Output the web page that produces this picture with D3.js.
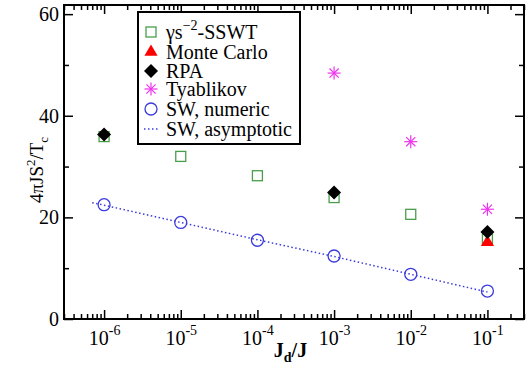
<!DOCTYPE html>
<html>
<head>
<meta charset="utf-8">
<script src="https://cdn.jsdelivr.net/npm/d3@7"></script>
<style>
  body { margin: 0; background: #fff; }
  svg text { font-family: "Liberation Serif", "Times New Roman", "DejaVu Serif", serif; fill: #000; }
  .axis path { display: none; }
  .axis line { stroke: #000; stroke-width: 1.5; }
</style>
</head>
<body>
<svg id="chart" width="532" height="372"></svg>
<script>
// ratio Jd/J
const xVals = [1e-6, 1e-5, 1e-4, 1e-3, 1e-2, 1e-1];

// gamma s^-2 SSWT (squares)
const ssswt = [35.9, 32.0, 28.2, 23.9, 20.6, 15.7];
// Monte Carlo, only at 0.1
const mcX = [1e-1];
const monteCarlo = [15.1];
// RPA
const rpaX = [1e-6, 1e-3, 1e-1];
const rpa = [36.3, 24.9, 17.1];
// Tyablikov
const tyaX = [1e-3, 1e-2, 1e-1];
const tyablikov = [48.4, 34.9, 21.6];
// SW numeric
const swNumeric = [22.5, 19.0, 15.5, 12.4, 8.8, 5.5];
// SW asymptotic (dotted line)
const asymX = [7e-7, 1e-6, 1e-5, 1e-4, 1e-3, 1e-2, 1e-1];
const swAsym = [22.9, 22.4, 19.0, 15.6, 12.3, 8.8, 5.3];

const yMajor = [0, 20, 40, 60];
const yMinor = [10, 30, 50];
const xMajor = [1e-6, 1e-5, 1e-4, 1e-3, 1e-2, 1e-1];

const legendLabels = ["SSWT", "Monte Carlo", "RPA", "Tyablikov", "SW, numeric", "SW, asymptotic"];

const margin = {top: 5, right: 8, bottom: 53, left: 64};
const W = 532, H = 372;
const width = W - margin.left - margin.right;
const height = H - margin.top - margin.bottom;

const svg = d3.select("#chart");
const g = svg.append("g").attr("transform", "translate(" + margin.left + "," + margin.top + ")");

const x = d3.scaleLog().domain([3e-7, 0.3]).range([0, width]);
const y = d3.scaleLinear().domain([0, 61.8]).range([height, 0]);

const green = "#4a9e4a", red = "#ff0000", magenta = "#ee33ee", blue = "#3b3bdd";
const serif = "'Liberation Serif', 'Times New Roman', serif";

// minor x ticks
const xMinor = x.ticks().filter(v => Math.abs(Math.log10(v) - Math.round(Math.log10(v))) > 1e-6);

// bottom axis
g.append("g").attr("class", "axis").attr("transform", "translate(0," + height + ")")
  .call(d3.axisBottom(x).tickValues(xMinor).tickSize(-5).tickFormat(""));
const xb = g.append("g").attr("class", "axis").attr("transform", "translate(0," + height + ")")
  .call(d3.axisBottom(x).tickValues(xMajor).tickSize(-9).tickFormat(""));
xb.selectAll(".tick text").each(function(d) {
  const t = d3.select(this).attr("font-size", 20).attr("font-family", serif).attr("y", 26).attr("dy", null);
  t.append("tspan").text("10");
  t.append("tspan").attr("font-size", 14).attr("dy", -10).text(String(Math.round(Math.log10(d))));
});
// top axis
g.append("g").attr("class", "axis")
  .call(d3.axisTop(x).tickValues(xMinor).tickSize(-5).tickFormat(""));
g.append("g").attr("class", "axis")
  .call(d3.axisTop(x).tickValues(xMajor).tickSize(-9).tickFormat(""));

// left axis
g.append("g").attr("class", "axis")
  .call(d3.axisLeft(y).tickValues(yMinor).tickSize(-5).tickFormat(""));
g.append("g").attr("class", "axis")
  .call(d3.axisLeft(y).tickValues(yMajor).tickSize(-9).tickPadding(5))
  .selectAll("text").attr("font-size", 20).attr("font-family", serif);
// right axis
g.append("g").attr("class", "axis").attr("transform", "translate(" + width + ",0)")
  .call(d3.axisRight(y).tickValues(yMinor).tickSize(-5).tickFormat(""));
g.append("g").attr("class", "axis").attr("transform", "translate(" + width + ",0)")
  .call(d3.axisRight(y).tickValues(yMajor).tickSize(-9).tickFormat(""));

// frame
g.append("rect").attr("width", width).attr("height", height)
  .attr("fill", "none").attr("stroke", "#000").attr("stroke-width", 2);

// axis titles
const xt = svg.append("text").attr("x", margin.left + x(2.7e-4)).attr("y", 357)
  .attr("text-anchor", "middle").attr("font-size", 20).attr("font-weight", "bold");
xt.append("tspan").text("J");
xt.append("tspan").attr("font-size", 14).attr("dy", 5).text("d");
xt.append("tspan").attr("dy", -5).text("/J");

const yt = svg.append("text").attr("transform", "translate(43,170) rotate(-90)")
  .attr("text-anchor", "middle").attr("font-size", 19);
yt.append("tspan").text("4\u03c0JS");
yt.append("tspan").attr("font-size", 13).attr("dy", -8).text("2");
yt.append("tspan").attr("dy", 8).text("/T");
yt.append("tspan").attr("font-size", 13).attr("dy", 5).text("c");

// marker shapes
function square(sel, cx, cy) {
  sel.append("rect").attr("x", cx - 5).attr("y", cy - 5).attr("width", 10).attr("height", 10)
    .attr("fill", "none").attr("stroke", green).attr("stroke-width", 1.3);
}
function triangle(sel, cx, cy) {
  sel.append("path").attr("d", d3.symbol(d3.symbolTriangle, 75)())
    .attr("transform", "translate(" + cx + "," + cy + ")").attr("fill", red);
}
function diamond(sel, cx, cy) {
  sel.append("path").attr("d", "M0,-7L7,0L0,7L-7,0Z")
    .attr("transform", "translate(" + cx + "," + cy + ")").attr("fill", "#000");
}
function star(sel, cx, cy) {
  const s = sel.append("g").attr("transform", "translate(" + cx + "," + cy + ")")
    .attr("stroke", magenta).attr("stroke-width", 1.2);
  [0, 45, 90, 135].forEach(a => {
    const r = 6.5, rad = a * Math.PI / 180;
    s.append("line").attr("x1", -r * Math.cos(rad)).attr("y1", -r * Math.sin(rad))
      .attr("x2", r * Math.cos(rad)).attr("y2", r * Math.sin(rad));
  });
}
function circle(sel, cx, cy) {
  sel.append("circle").attr("cx", cx).attr("cy", cy).attr("r", 6)
    .attr("fill", "none").attr("stroke", blue).attr("stroke-width", 1.3);
}

// dotted line
const line = d3.line().x((d, i) => x(asymX[i])).y(d => y(d));
g.append("path").datum(swAsym).attr("d", line).attr("fill", "none")
  .attr("stroke", blue).attr("stroke-width", 1.5).attr("stroke-dasharray", "1.5,2.5");

const marks = g.append("g");
ssswt.forEach((v, i) => square(marks, x(xVals[i]), y(v)));
swNumeric.forEach((v, i) => circle(marks, x(xVals[i]), y(v)));
monteCarlo.forEach((v, i) => triangle(marks, x(mcX[i]), y(v)));
rpa.forEach((v, i) => diamond(marks, x(rpaX[i]), y(v)));
tyablikov.forEach((v, i) => star(marks, x(tyaX[i]), y(v)));

// legend
const lg = svg.append("g");
lg.append("rect").attr("x", 138).attr("y", 12).attr("width", 162).attr("height", 132)
  .attr("fill", "#fff").attr("stroke", "#000").attr("stroke-width", 2);
const rowY = [32, 52, 71, 89, 109, 129];
const lx = 151;
square(lg, lx, rowY[0]);
triangle(lg, lx, rowY[1]);
diamond(lg, lx, rowY[2]);
star(lg, lx, rowY[3]);
circle(lg, lx, rowY[4]);
lg.append("line").attr("x1", lx - 7).attr("x2", lx + 7).attr("y1", rowY[5]).attr("y2", rowY[5])
  .attr("stroke", blue).attr("stroke-width", 1.5).attr("stroke-dasharray", "1.5,2.5");

rowY.forEach((ry, i) => {
  const t = lg.append("text").attr("x", 166).attr("y", ry + 7).attr("font-size", 20)
    .attr("font-family", serif);
  if (i === 0) {
    t.append("tspan").text("\u03b3s");
    t.append("tspan").attr("font-size", 14).attr("dy", -9).text("\u22122");
    t.append("tspan").attr("dy", 9).text("-" + legendLabels[0]);
  } else {
    t.text(legendLabels[i]);
  }
});
</script>
</body>
</html>
